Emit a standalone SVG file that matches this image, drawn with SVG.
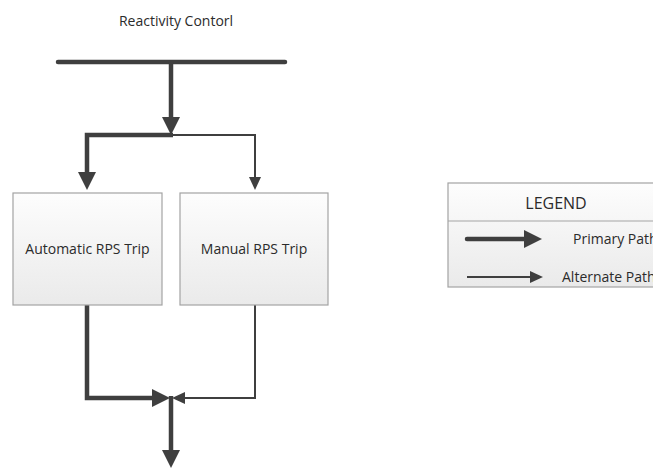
<svg xmlns="http://www.w3.org/2000/svg" width="653" height="469" viewBox="0 0 653 469">
  <defs>
    <linearGradient id="boxFill" x1="0" y1="0" x2="0" y2="1">
      <stop offset="0" stop-color="#fdfdfd"/>
      <stop offset="1" stop-color="#eaeaea"/>
    </linearGradient>
    <marker id="headThick" markerUnits="userSpaceOnUse" markerWidth="18" markerHeight="18" refX="8" refY="9" orient="auto">
      <path d="M0,0 L18,9 L0,18 z" fill="#3f3f3f"/>
    </marker>
    <marker id="headThin" markerUnits="userSpaceOnUse" markerWidth="13" markerHeight="12" refX="6" refY="6" orient="auto">
      <path d="M0,0 L13,6 L0,12 z" fill="#3f3f3f"/>
    </marker>
  </defs>
  <style>
    .label { font-family: "Open Sans", "Liberation Sans", Arial, sans-serif; font-size: 14px; fill: #2b2b2b; }
    .box { fill: url(#boxFill); stroke: #a3a3a3; stroke-width: 1.2; }
    .thick { fill: none; stroke: #3f3f3f; stroke-width: 4.5; marker-end: url(#headThick); }
    .thin { fill: none; stroke: #3f3f3f; stroke-width: 2; marker-end: url(#headThin); }
    .bar { stroke: #3f3f3f; stroke-width: 4.5; stroke-linecap: round; }
  </style>

  <rect width="653" height="469" fill="#ffffff"/>

  <g id="title">
    <text class="label" x="176" y="26" text-anchor="middle">Reactivity Contorl</text>
  </g>

  <g id="connectors">
    <line class="bar" x1="58" y1="62" x2="285" y2="62"/>
    <path class="thick" d="M171,62 V125"/>
    <path class="thick" d="M173,135 H87 V180"/>
    <path class="thin" d="M171,135 H255 V183"/>
    <path class="thick" d="M87,305 V398 H160"/>
    <path class="thin" d="M255,305 V398 H179"/>
    <path class="thick" d="M171,396 V458"/>
  </g>

  <g id="automatic">
    <rect class="box" x="13" y="193" width="149" height="112"/>
    <text class="label" x="87.5" y="254" text-anchor="middle">Automatic RPS Trip</text>
  </g>

  <g id="manual">
    <rect class="box" x="180" y="193" width="148" height="112"/>
    <text class="label" x="254" y="254" text-anchor="middle">Manual RPS Trip</text>
  </g>

  <g id="legend">
    <rect class="box" x="448" y="183" width="215" height="104"/>
    <line x1="448" y1="221" x2="663" y2="221" stroke="#a3a3a3" stroke-width="1.2"/>
    <text class="label" x="556" y="209" text-anchor="middle" style="font-size:16px">LEGEND</text>
    <path class="thick" d="M467,239 H532" stroke-linecap="round"/>
    <text class="label" x="573" y="244">Primary Path</text>
    <path class="thin" d="M467,277 H536"/>
    <text class="label" x="562" y="282">Alternate Path</text>
  </g>
</svg>
